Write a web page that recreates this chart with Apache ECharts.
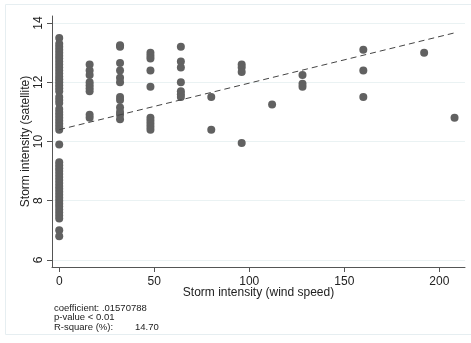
<!DOCTYPE html>
<html>
<head>
<meta charset="utf-8">
<script src="https://cdn.jsdelivr.net/npm/echarts@6/dist/echarts.min.js"></script>
<style>
  html, body { margin: 0; padding: 0; background: #fff; }
  #chart { width: 471px; height: 343px; }
</style>
</head>
<body>
<div id="chart"></div>
<script>
// wind speed groups (x) and satellite intensity readings (y) for each group
const speedLevels = [0, 16, 32, 48, 64, 80, 96, 112, 128, 160, 192, 208]
const sat0 = [13.5, 13.3, 13.2, 13.1, 13.0, 12.9, 12.8, 12.7, 12.6, 12.5, 12.4, 12.3, 12.2, 12.1, 12.0, 11.9, 11.8, 11.7,
  11.5, 11.4, 11.3, 11.1, 11.0, 10.9, 10.8, 10.7, 10.6, 10.5, 10.4, 9.9,
  9.3, 9.2, 9.1, 9.0, 8.9, 8.8, 8.7, 8.6, 8.5, 8.4, 8.3, 8.2, 8.1, 8.0, 7.9, 7.8, 7.7, 7.6, 7.5, 7.4, 7.0, 6.8]
const sat16 = [12.6, 12.4, 12.25, 12.0, 11.9, 11.8, 11.7, 10.9, 10.8]
const sat32 = [13.25, 13.2, 12.65, 12.4, 12.15, 12.0, 11.5, 11.4, 11.15, 11.0, 10.9, 10.75]
const sat48 = [13.0, 12.9, 12.8, 12.4, 11.85, 10.8, 10.7, 10.6, 10.5, 10.4]
const sat64 = [13.2, 12.7, 12.5, 12.0, 11.7, 11.6, 11.5]
const sat80 = [11.5, 10.4]
const sat96 = [12.6, 12.5, 12.35, 9.95]
const sat112 = [11.25]
const sat128 = [12.25, 11.95, 11.85]
const sat160 = [13.1, 12.4, 11.5]
const sat192 = [13.0]
const sat208 = [10.8]
const satByLevel = [sat0, sat16, sat32, sat48, sat64, sat80, sat96, sat112, sat128, sat160, sat192, sat208]

// fitted line end points
const fitLine = [[0, 10.40], [208, 13.67]]

const xTicks = [0, 50, 100, 150, 200]
const yTicks = [6, 8, 10, 12, 14]

const statLines = ['coefficient: .01570788', 'p-value < 0.01', 'R-square (%):']
const rSquare = '14.70'

const points = []
speedLevels.forEach(function (s, i) {
  satByLevel[i].forEach(function (v) {
    points.push([s, v])
  })
})

const chart = echarts.init(document.getElementById('chart'))
chart.setOption({
  animation: false,
  textStyle: { fontFamily: 'Liberation Sans, Arial, sans-serif' },
  grid: { left: 52, top: 16, right: 6, bottom: 76 },
  xAxis: {
    type: 'value',
    min: -3.8,
    max: 213.5,
    name: 'Storm intensity (wind speed)',
    nameLocation: 'middle',
    nameGap: 20,
    nameMoveOverlap: false,
    nameTextStyle: { fontSize: 12, color: '#222' },
    axisLine: { onZero: false, lineStyle: { color: '#555', width: 1 } },
    axisTick: { show: true, length: 5, customValues: xTicks, lineStyle: { color: '#555' } },
    axisLabel: { customValues: xTicks, fontSize: 12, color: '#222', margin: 9 },
    splitLine: { show: false }
  },
  yAxis: {
    type: 'value',
    min: 5.76,
    max: 14.24,
    name: 'Storm intensity (satellite)',
    nameLocation: 'middle',
    nameGap: 20,
    nameMoveOverlap: false,
    nameTextStyle: { fontSize: 12, color: '#222' },
    axisLine: { show: true, onZero: false, lineStyle: { color: '#555', width: 1 } },
    axisTick: { show: true, length: 5, customValues: yTicks, lineStyle: { color: '#555' } },
    axisLabel: { customValues: yTicks, fontSize: 12, color: '#222', rotate: 90, margin: 7 },
    splitLine: { show: true, lineStyle: { color: '#eaf2f3', width: 1 } }
  },
  series: [
    {
      name: 'obs',
      type: 'scatter',
      data: points,
      symbolSize: 8,
      itemStyle: { color: '#616161', opacity: 1 }
    },
    {
      name: 'fit',
      type: 'line',
      data: fitLine,
      symbol: 'none',
      lineStyle: { color: '#444', width: 1, type: [6, 4] },
      z: 3
    }
  ],
  graphic: [
    {
      type: 'rect',
      shape: { x: 5.5, y: 4.5, width: 470, height: 330 },
      style: { fill: 'none', stroke: '#e6eef1', lineWidth: 1 },
      silent: true
    },
    {
      type: 'text',
      left: 54,
      top: 303,
      style: { text: statLines.join('\n'), fontSize: 9.5, lineHeight: 9.5, fill: '#222', fontFamily: 'Liberation Sans, Arial, sans-serif' }
    },
    {
      type: 'text',
      left: 135,
      top: 322,
      style: { text: rSquare, fontSize: 9.5, lineHeight: 9.5, fill: '#222', fontFamily: 'Liberation Sans, Arial, sans-serif' }
    }
  ]
})
</script>
</body>
</html>
